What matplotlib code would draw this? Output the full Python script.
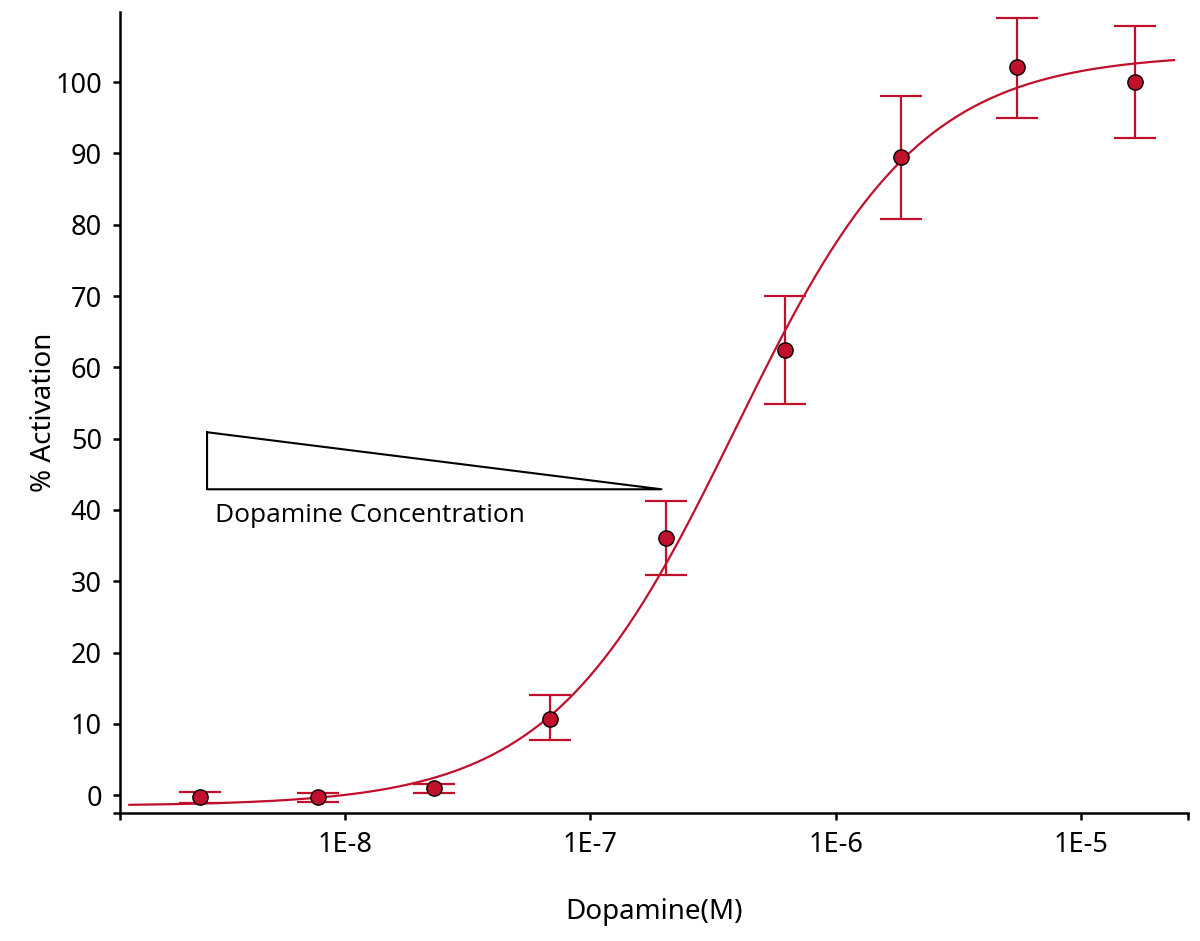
import numpy as np
import matplotlib
matplotlib.use('Agg')
import matplotlib.pyplot as plt
from matplotlib.ticker import FixedLocator, NullFormatter

# --- data ---
dose = [2.55e-9, 7.75e-9, 2.3e-8, 6.85e-8, 2.04e-7, 6.2e-7, 1.85e-6, 5.5e-6, 1.66e-5]
resp = [-0.3, -0.3, 1.0, 10.7, 36.0, 62.4, 89.5, 102.1, 100.0]
err_lo = [0.8, 0.6, 0.7, 2.9, 5.1, 7.6, 8.7, 7.1, 7.9]
err_hi = [0.8, 0.6, 0.6, 3.3, 5.2, 7.6, 8.5, 6.9, 7.9]

# Hill fit parameters (as drawn)
BOTTOM = -1.5
TOP = 104.0
LOG_EC50 = -6.41
HILL = 1.15

x_ticks = [1e-8, 1e-7, 1e-6, 1e-5]
x_ticklabels = ['1E-8', '1E-7', '1E-6', '1E-5']
y_ticks = [0, 10, 20, 30, 40, 50, 60, 70, 80, 90, 100]

# wedge annotation (x in M, y in %)
wedge_x = [10**-8.563, 10**-8.563, 10**-6.71, 10**-8.563]
wedge_y = [50.9, 42.9, 42.9, 50.9]

RED = '#c0102c'
X_MIN, X_MAX = 10**-8.918, 10**-4.563
Y_MIN, Y_MAX = -2.5, 109.8

fig = plt.figure(figsize=(12, 9.41), dpi=100)
ax = fig.add_axes([0.1, 0.136, 0.89, 0.851])

xs = np.logspace(-8.88, np.log10(1.5e-5 * 1.6), 400)
ys = BOTTOM + (TOP - BOTTOM) / (1 + 10 ** ((LOG_EC50 - np.log10(xs)) * HILL))
ax.plot(xs, ys, color=RED, lw=1.6, zorder=2)

ax.errorbar(dose, resp, yerr=[err_lo, err_hi], fmt='none', ecolor=RED,
            elinewidth=1.6, capsize=15, capthick=1.6, zorder=3)
ax.plot(dose, resp, 'o', ms=11, mfc=RED, mec='black', mew=1.0, zorder=4)

ax.plot(wedge_x, wedge_y, color='black', lw=1.5, zorder=2)
ax.text(10**-8.53, 39.2, 'Dopamine Concentration', fontsize=19,
        family='Open Sans', ha='left', va='center')

ax.set_xscale('log')
ax.set_xlim(X_MIN, X_MAX)
ax.set_ylim(Y_MIN, Y_MAX)

ax.xaxis.set_major_locator(FixedLocator(x_ticks))
ax.set_xticklabels(x_ticklabels)
ax.xaxis.set_minor_locator(FixedLocator([X_MIN, X_MAX]))
ax.xaxis.set_minor_formatter(NullFormatter())
ax.set_yticks(y_ticks)
ax.yaxis.set_minor_locator(FixedLocator([Y_MIN]))

for side in ['top', 'right']:
    ax.spines[side].set_visible(False)
for side in ['left', 'bottom']:
    ax.spines[side].set_linewidth(1.8)

ax.tick_params(which='both', direction='out', length=5, width=1.8,
               labelsize=19.5, pad=8)
for lab in ax.get_xticklabels() + ax.get_yticklabels():
    lab.set_family('Noto Sans')

ax.set_xlabel('Dopamine(M)', fontsize=20, family='Noto Sans', labelpad=28)
ax.set_ylabel('% Activation', fontsize=20, family='Noto Sans', labelpad=-2)

fig.savefig('out.png', dpi=100)
